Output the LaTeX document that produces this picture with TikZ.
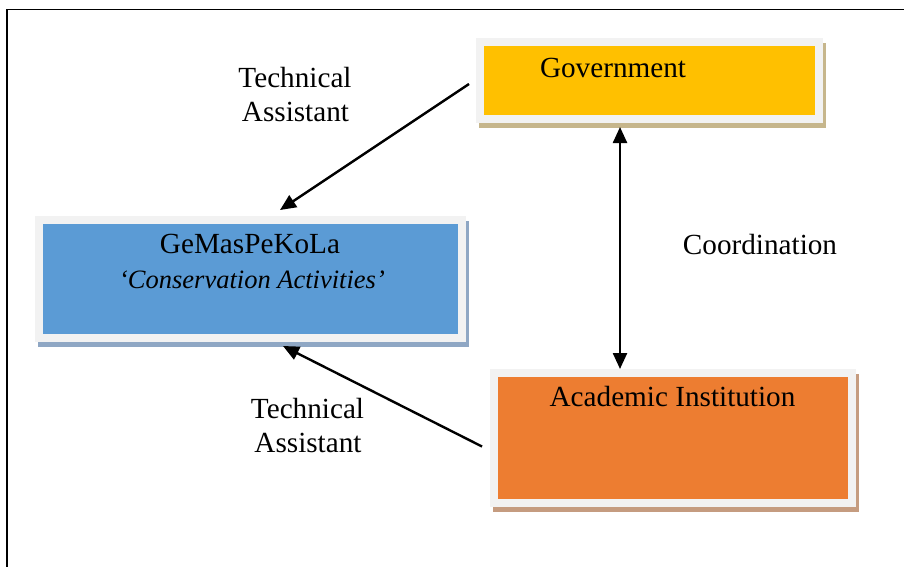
\documentclass[tikz,border=0pt]{standalone}
\usepackage{fontspec}
\setmainfont{Liberation Serif}
\usetikzlibrary{arrows.meta,backgrounds}
\definecolor{govfill}{HTML}{FFC000}
\definecolor{gemfill}{HTML}{5B9BD5}
\definecolor{acafill}{HTML}{ED7D31}
\definecolor{framegrey}{HTML}{F2F2F2}
\definecolor{govshadow}{HTML}{C6B68C}
\definecolor{gemshadow}{HTML}{8FA7C4}
\definecolor{acashadow}{HTML}{C59C80}
\begin{document}
\begin{tikzpicture}[x=1pt,y=-1pt,
  boxstyle/.style={draw=framegrey, line width=8pt, inner sep=0pt, rectangle},
  txt/.style={font=\fontsize{29.2}{34}\selectfont, inner sep=0pt, anchor=base},
  conn/.style={line width=2.4pt, -{Triangle[length=16pt,width=14pt]}},
  bconn/.style={line width=2.4pt, {Triangle[length=16pt,width=14pt]}-{Triangle[length=16pt,width=14pt]}}
]
\useasboundingbox (0,0) rectangle (904,566);
% outer frame (clipped)
\draw[line width=1.8pt, black] (6.8,580) -- (6.8,9.5) -- (920,9.5);

% boxes
\node[boxstyle, fill=govfill, minimum width=339pt, minimum height=77pt] (gov) at (649.5,80.5) {};
\node[boxstyle, fill=gemfill, minimum width=423pt, minimum height=118pt] (gem) at (250.5,279) {};
\node[boxstyle, fill=acafill, minimum width=358pt, minimum height=130pt] (aca) at (673,438) {};

% shadows
\begin{pgfonlayer}{background}
\fill[govshadow] ([xshift=3pt,yshift=-5pt]gov.south west) rectangle ([xshift=3pt,yshift=-5pt]gov.north east);
\fill[gemshadow] ([xshift=3pt,yshift=-5pt]gem.south west) rectangle ([xshift=3pt,yshift=-5pt]gem.north east);
\fill[acashadow] ([xshift=3pt,yshift=-5pt]aca.south west) rectangle ([xshift=3pt,yshift=-5pt]aca.north east);
\end{pgfonlayer}

% texts in boxes
\node[txt] (govtxt) at (613,77) {Government};
\node[txt] (gemtxt) at (250,253) {GeMasPeKoLa};
\node[txt, font=\fontsize{26.5}{32}\selectfont\itshape] (gemsub) at (252,288) {‘Conservation Activities’};
\node[txt] (acatxt) at (672.5,406.5) {Academic Institution};

% labels
\node[txt] (ta1a) at (295,87) {Technical};
\node[txt] (ta1b) at (295.5,121.5) {Assistant};
\node[txt] (ta2a) at (307.5,418) {Technical};
\node[txt] (ta2b) at (308,452) {Assistant};
\node[txt] (coord) at (760,254) {Coordination};

% connectors
\draw[conn] ([xshift=-7pt,yshift=-3.5pt]gov.west) -- ([xshift=29.5pt,yshift=6pt]gem.north);
\draw[conn] ([xshift=-8pt,yshift=-8.5pt]aca.west) -- ([xshift=32.5pt,yshift=-4pt]gem.south);
\draw[bconn] ([xshift=-29.5pt,yshift=-4pt]gov.south) -- ([xshift=-53pt]aca.north);
\end{tikzpicture}
\end{document}
